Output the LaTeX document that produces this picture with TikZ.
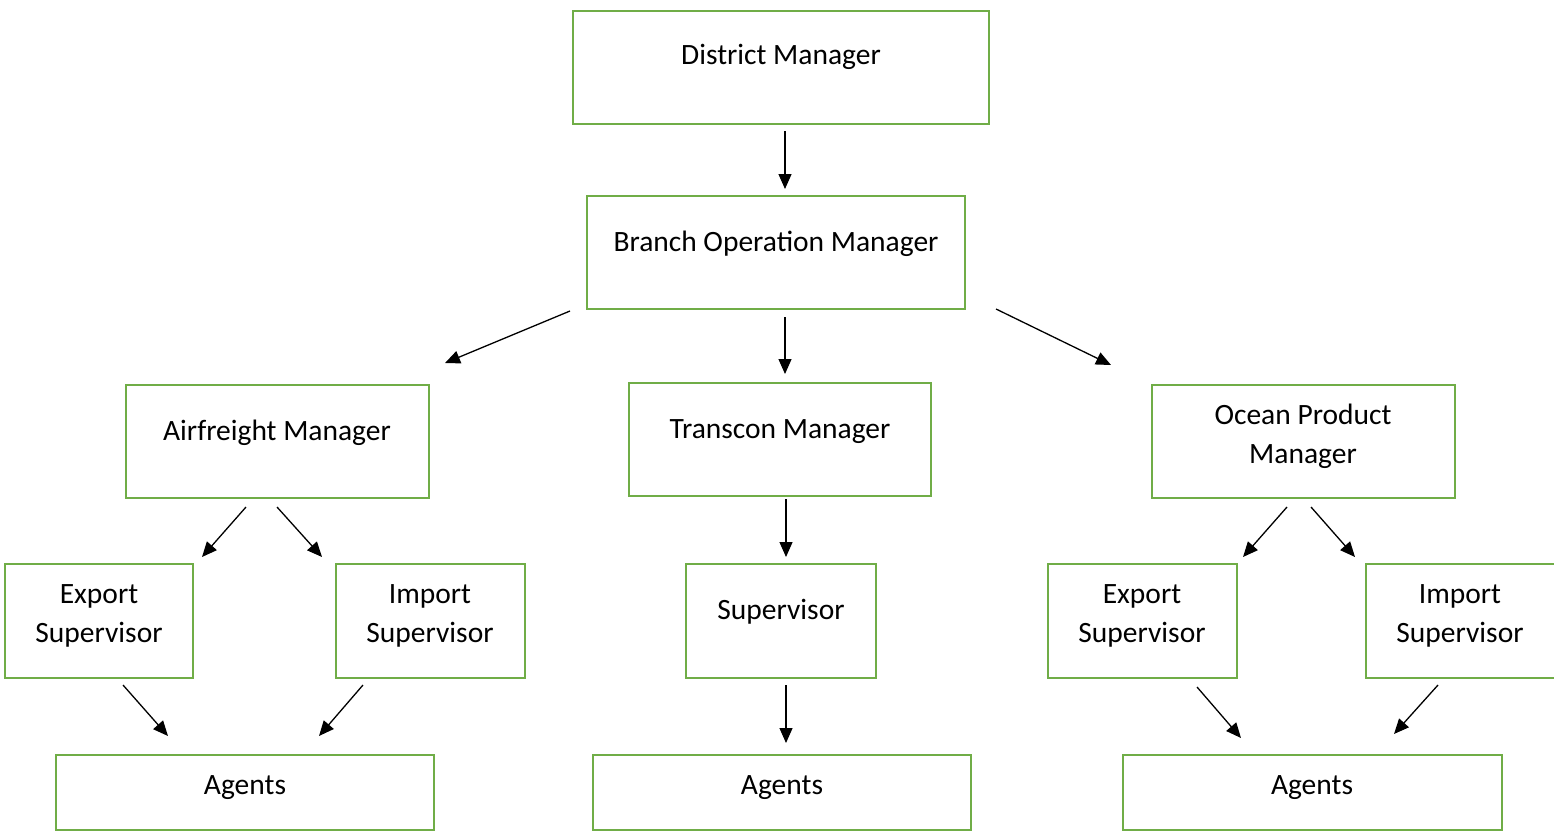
\documentclass[tikz,border=0pt]{standalone}
\usepackage{fontspec}
\setmainfont{Carlito}
\usetikzlibrary{arrows.meta}
\definecolor{boxgreen}{HTML}{70AD47}
\tikzset{
  x=1pt,y=-1pt,
  orgbox/.style={draw=boxgreen,line width=2.8pt},
  lbl/.style={anchor=base,inner sep=0pt,font=\fontsize{29.5}{35}\selectfont},
  arr/.style={line width=1.3pt,-{Triangle[length=15pt,width=13pt]}}
}
\begin{document}
\begin{tikzpicture}
\useasboundingbox (0,0) rectangle (1554,832);
% boxes
\draw[orgbox] (573,11) rectangle (989,124);
\draw[orgbox] (587,196) rectangle (965,309);
\draw[orgbox] (126,385) rectangle (429,498);
\draw[orgbox] (629,383) rectangle (931,496);
\draw[orgbox] (1152,385) rectangle (1455,498);
\draw[orgbox] (5,564) rectangle (193,678);
\draw[orgbox] (336,564) rectangle (525,678);
\draw[orgbox] (686,564) rectangle (876,678);
\draw[orgbox] (1048,564) rectangle (1237,678);
\draw[orgbox] (1366,564) rectangle (1565,678);
\draw[orgbox] (56,755) rectangle (434,830);
\draw[orgbox] (593,755) rectangle (971,830);
\draw[orgbox] (1123,755) rectangle (1502,830);
% texts
\node[lbl] (dmt) at (781,65) {District Manager};
\node[lbl] (bomt) at (776,251) {Branch Operation Manager};
\node[lbl] (amt) at (277,440) {Airfreight Manager};
\node[lbl] (tmt) at (780,438) {Transcon Manager};
\node[lbl] (opmta) at (1303,424) {Ocean Product};
\node[lbl] (opmtb) at (1303,463) {Manager};
\node[lbl] (eslta) at (99,603) {Export};
\node[lbl] (esltb) at (99,642) {Supervisor};
\node[lbl] (islta) at (430,603) {Import};
\node[lbl] (isltb) at (430,642) {Supervisor};
\node[lbl] (supt) at (781,619) {Supervisor};
\node[lbl] (esrta) at (1142,603) {Export};
\node[lbl] (esrtb) at (1142,642) {Supervisor};
\node[lbl] (isrta) at (1460,603) {Import};
\node[lbl] (isrtb) at (1460,642) {Supervisor};
\node[lbl] (aglt) at (245,794) {Agents};
\node[lbl] (agct) at (782,794) {Agents};
\node[lbl] (agrt) at (1312,794) {Agents};
% arrow end points
\coordinate (a1s) at (785,131);  \coordinate (a1e) at (785,189);
\coordinate (a2s) at (570,311);  \coordinate (a2e) at (445,363);
\coordinate (a3s) at (785,317);  \coordinate (a3e) at (785,374);
\coordinate (a4s) at (996,309);  \coordinate (a4e) at (1111,365);
\coordinate (a5s) at (246,507);  \coordinate (a5e) at (202,557);
\coordinate (a6s) at (277,507);  \coordinate (a6e) at (322,557);
\coordinate (a7s) at (786,499);  \coordinate (a7e) at (786,557);
\coordinate (a8s) at (1287,507); \coordinate (a8e) at (1243,557);
\coordinate (a9s) at (1311,507); \coordinate (a9e) at (1355,557);
\coordinate (a10s) at (123,685); \coordinate (a10e) at (168,736);
\coordinate (a11s) at (363,685); \coordinate (a11e) at (319,736);
\coordinate (a12s) at (786,685); \coordinate (a12e) at (786,743);
\coordinate (a13s) at (1197,687); \coordinate (a13e) at (1241,738);
\coordinate (a14s) at (1438,685); \coordinate (a14e) at (1394,734);
\foreach \i in {1,...,14} {\draw[arr] (a\i s) -- (a\i e);}
\end{tikzpicture}
\end{document}
